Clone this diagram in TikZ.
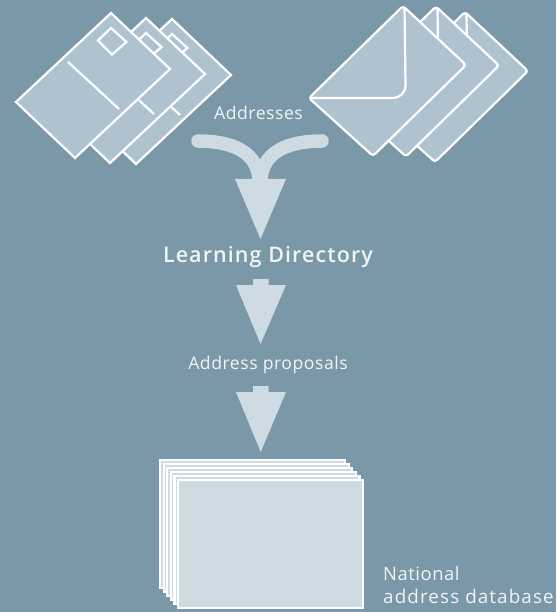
\documentclass[tikz,border=0pt]{standalone}
\usepackage{fontspec}
\setmainfont{Open Sans}[LetterSpace=3]
\newfontfamily\lblbold{Open Sans}[LetterSpace=5,UprightFont=* Semibold,BoldFont=* Semibold]
\newfontfamily\lblwide{Open Sans}[LetterSpace=6]
\definecolor{bgc}{HTML}{7B98A9}
\definecolor{cardc}{HTML}{AEC3CF}
\definecolor{arrowc}{HTML}{CEDBE3}
\tikzset{
  card/.style={draw=white,fill=cardc,line width=2.2pt,line join=miter},
  cardline/.style={draw=white,line width=2.2pt},
  envelope/.style={draw=white,fill=cardc,line width=2.2pt,rounded corners=3pt},
  sheet/.style={draw=white,fill=arrowc,line width=2.2pt},
  arrowhd/.style={fill=arrowc,draw=none},
  branch/.style={draw=arrowc,line width=13.5pt},
  lbl/.style={text=arrowc!30!white,font=\fontsize{17.6}{20}\selectfont,inner sep=0pt},
}
\newcommand{\postcard}[2]{%
  \begin{scope}[shift={(#1,#2)}]
    \path[card] (111,13) -- (170,69) -- (75,158) -- (16,102) -- cycle;
    \path[card,fill=none] (111,28) -- (126.5,42) -- (112,54.5) -- (98,40.5) -- cycle;
    \path[cardline] (68,62) -- (119,109);
  \end{scope}}
\newcommand{\envelopecard}[2]{%
  \begin{scope}[shift={(#1,#2)}]
    \path[envelope] (403,6) -- (466,65) -- (373,156) -- (309,98) -- cycle;
    \path[cardline] (404.5,7) -- (405.5,85) .. controls (405.5,93) and (400,98) .. (392,98) -- (310,98);
  \end{scope}}
\begin{document}
\begin{tikzpicture}[x=1pt,y=-1pt]
\useasboundingbox[fill=bgc] (0,0) rectangle (556,612);
% postcards
\postcard{61}{6}
\postcard{35}{5}
\postcard{0}{0}
% envelopes
\envelopecard{62}{6}
\envelopecard{33}{0.5}
\envelopecard{0}{0}
% merging arrow
\path[branch,line cap=round] (198,141) .. controls (232,141) and (259,152) .. (259,182);
\path[branch,line cap=round] (322,141) .. controls (288,141) and (261,152) .. (261,182);
\path[arrowhd] (235,179) -- (286,179) -- (260.5,239) -- cycle;
% arrow 2
\path[arrowhd] (253,279) -- (268.7,279) -- (268.7,285) -- (286,285) -- (260.5,344) -- (236,285) -- (253,285) -- cycle;
% arrow 3
\path[arrowhd] (253,386) -- (268.7,386) -- (268.7,392) -- (286,392) -- (260.7,452) -- (236,392) -- (253,392) -- cycle;
% stack
\foreach \i in {0,...,5}{
  \path[sheet] ({160+3.6*\i},{460+4*\i}) rectangle ++(185,128);
}
% labels
\node[lbl,anchor=base] (addr) at (258.5,120) {Addresses};
\node[lbl,anchor=base,font=\fontsize{21.5}{24}\selectfont\lblbold] (ld) at (268,262) {Learning Directory};
\node[lbl,anchor=base] (prop) at (268,369) {Address proposals};
\node[lbl,anchor=base west,font=\fontsize{18.4}{20}\selectfont] (nat) at (383,580) {National};
\node[lbl,anchor=base west,font=\fontsize{18.8}{20}\selectfont\lblwide] (db) at (383,603) {address database};
\end{tikzpicture}
\end{document}
